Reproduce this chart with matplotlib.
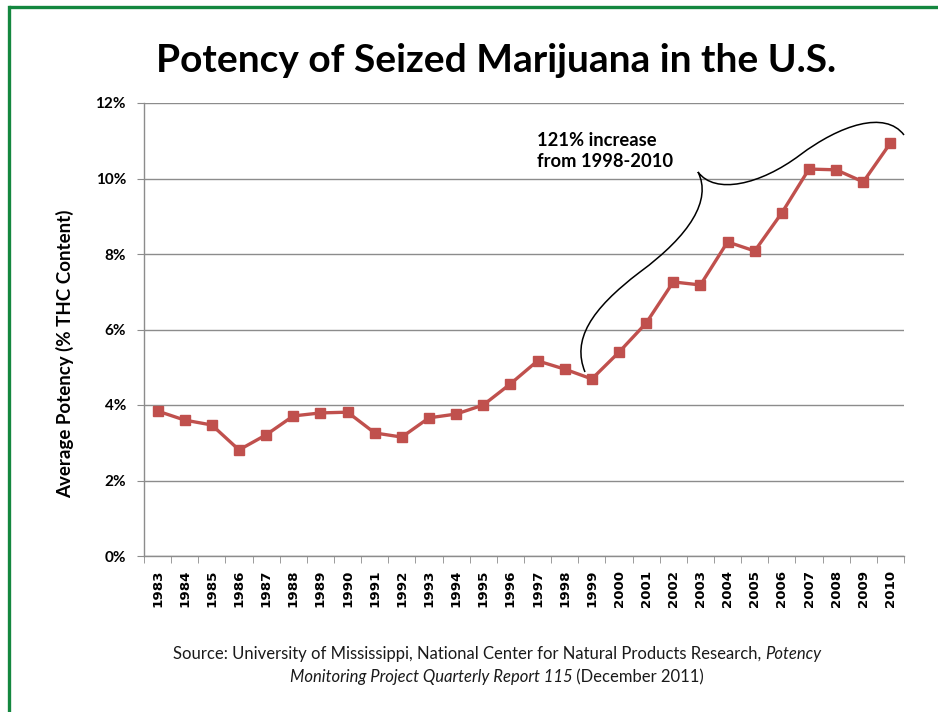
import matplotlib
matplotlib.use("Agg")
import matplotlib.pyplot as plt
from matplotlib.path import Path
from matplotlib.patches import PathPatch
from matplotlib.lines import Line2D
import matplotlib.transforms as mtransforms

years = [str(y) for y in range(1983, 2011)]
potency = [3.84, 3.60, 3.47, 2.81, 3.21, 3.71, 3.79, 3.81, 3.26, 3.15,
           3.66, 3.76, 4.00, 4.56, 5.17, 4.95, 4.69, 5.40, 6.17, 7.26,
           7.18, 8.32, 8.08, 9.09, 10.25, 10.23, 9.91, 10.94]
y_ticks = [0, 2, 4, 6, 8, 10, 12]
y_ticklabels = [f"{v}%" for v in y_ticks]

W, H = 938, 712
fig = plt.figure(figsize=(W / 100, H / 100), dpi=100)
fig.patch.set_facecolor("white")

FONT = ["Lato", "DejaVu Sans"]

ax = fig.add_axes([144 / W, 1 - 556 / H, (904 - 144) / W, (556 - 103) / H])
x = list(range(len(years)))
ax.plot(x, potency, color="#C0504D", lw=2.4, marker="s", markersize=7,
        markerfacecolor="#C0504D", markeredgecolor="#C0504D", zorder=3)

ax.set_xlim(-0.5, len(years) - 0.5)
ax.set_ylim(0, 12)
ax.set_yticks(y_ticks)
ax.set_yticklabels(y_ticklabels, fontfamily=FONT, fontweight="bold", fontsize=11)
ax.yaxis.grid(True, color="#8c8c8c", lw=1)
ax.set_axisbelow(True)
ax.tick_params(axis="y", length=5, color="#8c8c8c", pad=8)

ax.set_xticks(x)
ax.set_xticklabels(years, rotation=90, fontfamily="DejaVu Sans",
                   fontweight="bold", fontsize=9.6)
ax.tick_params(axis="x", which="major", length=0, pad=10)
ax.set_xticks([i - 0.5 for i in range(len(years) + 1)], minor=True)
ax.tick_params(axis="x", which="minor", length=5, color="#8c8c8c")

for s in ["top", "right"]:
    ax.spines[s].set_visible(False)
for s in ["left", "bottom"]:
    ax.spines[s].set_color("#8c8c8c")
    ax.spines[s].set_linewidth(1)

# pixel transform (origin top-left)
pix = mtransforms.Affine2D().scale(1, -1).translate(0, H)

fig.text(496 / W, 1 - 61 / H, "Potency of Seized Marijuana in the U.S.",
         ha="center", va="center", fontfamily=FONT, fontweight="bold",
         fontsize=28)

fig.text(65 / W, 1 - 354 / H, "Average Potency (% THC Content)", rotation=90,
         ha="center", va="center", fontfamily=FONT, fontweight="bold",
         fontsize=13.5)

fig.text(537 / W, 1 - 151 / H, "121% increase\nfrom 1998-2010", ha="left",
         va="center", fontfamily=FONT, fontweight="bold", fontsize=13.2,
         linespacing=1.35)

# curly brace annotation (pixel coordinates)
verts = [(585, 372), (572, 340), (590, 310), (640, 272),
         (690, 235), (712, 200), (698, 172),
         (715, 195), (760, 185), (800, 155),
         (840, 125), (885, 110), (904, 135)]
codes = [Path.MOVETO] + [Path.CURVE4] * (len(verts) - 1)
brace = PathPatch(Path(verts, codes), facecolor="none", edgecolor="black",
                  lw=1.1, transform=pix, zorder=5)
fig.add_artist(brace)

# border
gc = "#14873F"
fig.add_artist(Line2D([8.5 / W, 8.5 / W], [0, 1 - 6.5 / H], color=gc, lw=2.4,
                      transform=fig.transFigure))
fig.add_artist(Line2D([8.5 / W, 1], [1 - 6.5 / H, 1 - 6.5 / H], color=gc,
                      lw=2.4, transform=fig.transFigure, solid_capstyle="butt"))

# source text with italic parts, centered lines
lines = [
    [("Source: University of Mississippi, National Center for Natural Products Research, ", "normal"),
     ("Potency", "italic")],
    [("Monitoring Project Quarterly Report 115", "italic"), (" (December 2011)", "normal")],
]
line_y = [654, 677]
fig.canvas.draw()
renderer = fig.canvas.get_renderer()
for segs, yy in zip(lines, line_y):
    texts = []
    for s, style in segs:
        t = fig.text(0, 1 - yy / H, s, ha="left", va="center",
                     fontfamily=FONT, fontstyle=style, fontsize=12,
                     color="#1a1a1a")
        texts.append(t)
    widths = [t.get_window_extent(renderer).width for t in texts]
    total = sum(widths)
    start = 497 - total / 2
    cur = start
    for t, w in zip(texts, widths):
        t.set_x(cur / W)
        cur += w

fig.savefig("out.png", dpi=100)
